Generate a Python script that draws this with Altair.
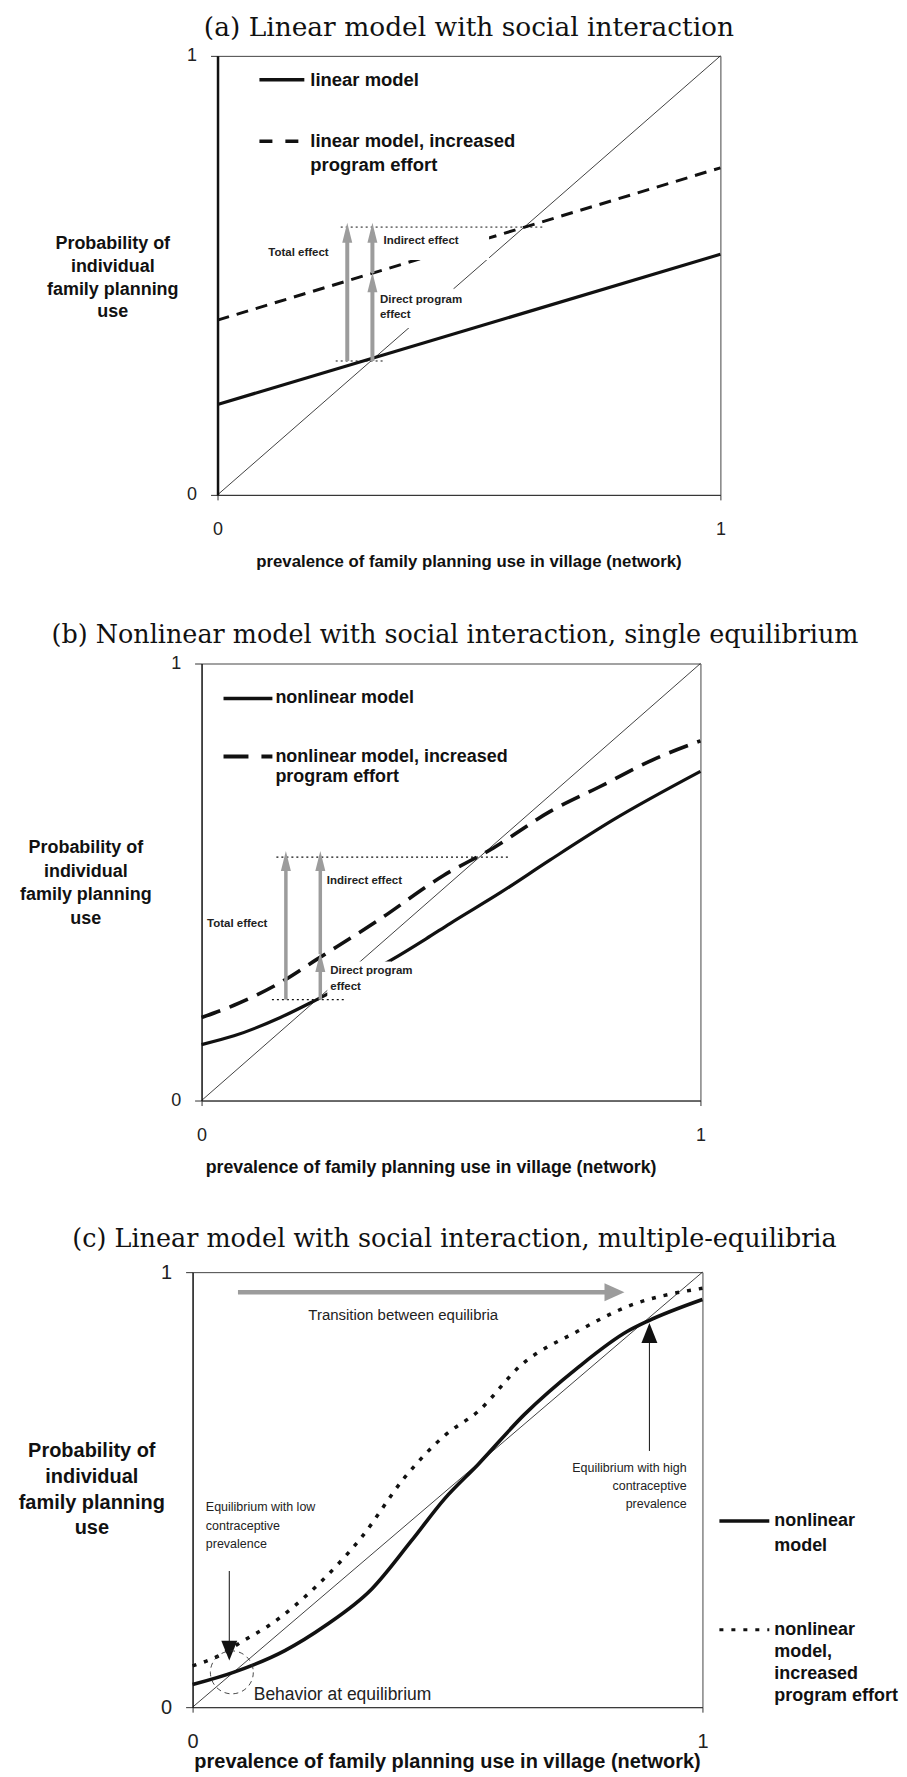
import altair as alt
import pandas as pd

SANS = "Liberation Sans"
SERIF = "DejaVu Serif"
INK = "#111111"
GREY = "#9c9c9c"

# ---------------- data: panel (a) ----------------
a_x = [0.0, 1.0]
a_linear = [0.206, 0.548]
a_increased = [0.398, 0.745]
diag_x = [0.0, 1.0]
diag_y = [0.0, 1.0]

a_arrow_x = [0.258, 0.308, 0.308]
a_arrow_from = [0.305, 0.305, 0.505]
a_arrow_tip = [0.620, 0.507, 0.620]
a_ref_y = [0.305, 0.610]
a_ref_from = [0.235, 0.245]
a_ref_to = [0.334, 0.647]
a_labels = ["Total effect", "Indirect effect", "Direct program", "effect"]
a_label_x = [0.101, 0.330, 0.323, 0.323]
a_label_y = [0.552, 0.578, 0.444, 0.409]
a_mask_x0 = [0.330, 0.322]
a_mask_x1 = [0.540, 0.470]
a_mask_y0 = [0.535, 0.380]
a_mask_y1 = [0.600, 0.470]

# ---------------- data: panel (b) ----------------
b_solid_x = [0.0, 0.065, 0.158, 0.231, 0.300, 0.378, 0.450, 0.498, 0.598, 0.698, 0.825, 1.0]
b_solid_y = [0.128, 0.148, 0.190, 0.231, 0.272, 0.320, 0.370, 0.405, 0.475, 0.550, 0.642, 0.753]
b_dash_x = [0.0, 0.065, 0.158, 0.231, 0.351, 0.485, 0.585, 0.698, 0.798, 0.911, 1.0]
b_dash_y = [0.190, 0.218, 0.270, 0.323, 0.410, 0.515, 0.578, 0.661, 0.718, 0.783, 0.823]

b_arrow_x = [0.169, 0.238, 0.238]
b_arrow_from = [0.231, 0.231, 0.335]
b_arrow_tip = [0.571, 0.340, 0.571]
b_ref_y = [0.231, 0.557]
b_ref_from = [0.141, 0.150]
b_ref_to = [0.285, 0.616]
b_labels = ["Total effect", "Indirect effect", "Direct program", "effect"]
b_label_x = [0.011, 0.251, 0.258, 0.258]
b_label_y = [0.403, 0.502, 0.297, 0.259]
b_mask_x0 = [0.252]
b_mask_x1 = [0.380]
b_mask_y0 = [0.236]
b_mask_y1 = [0.318]

# ---------------- data: panel (c) ----------------
c_solid_x = [0.0, 0.080, 0.181, 0.260, 0.351, 0.429, 0.495, 0.560, 0.651, 0.755, 0.853, 0.892, 1.0]
c_solid_y = [0.052, 0.080, 0.130, 0.187, 0.271, 0.382, 0.480, 0.558, 0.673, 0.780, 0.864, 0.887, 0.937]
c_dot_x = [0.0, 0.051, 0.100, 0.149, 0.247, 0.331, 0.416, 0.495, 0.560, 0.645, 0.755, 0.853, 1.0]
c_dot_y = [0.095, 0.118, 0.153, 0.187, 0.283, 0.390, 0.528, 0.625, 0.680, 0.787, 0.864, 0.921, 0.963]

c_trans_x = [0.089, 0.847]
c_trans_y = 0.954
c_eq_arrow_x = [0.896, 0.072]
c_eq_arrow_from = [0.589, 0.313]
c_eq_arrow_tip = [0.883, 0.107]
c_circle = (0.077, 0.080)
c_hi_labels = ["Equilibrium with high", "contraceptive", "prevalence"]
c_hi_y = [0.550, 0.508, 0.468]
c_hi_x = 0.969
c_lo_labels = ["Equilibrium with low", "contraceptive", "prevalence"]
c_lo_y = [0.459, 0.417, 0.375]
c_lo_x = 0.026

X_TITLE = "prevalence of family planning use in village (network)"
Y_TITLE = ["Probability of", "individual", "family planning", "use"]

UP = "M0,0L-0.5,2L0.5,2Z"
UP_WIDE = "M0,0L-0.8,2L0.8,2Z"
DOWN_WIDE = "M0,0L-0.8,-2L0.8,-2Z"
RIGHT = "M0,0L-2,-0.9L-2,0.9Z"

PIN = 183  # common left extent of every panel (pixels left of the plot area)


def one():
    return alt.Chart(pd.DataFrame({"k": [0]}))


def ptext(x, y, s, size, weight="normal", align="left", font=SANS, color=INK):
    return one().mark_text(text=s, align=align, baseline="middle", fontSize=size,
                           fontWeight=weight, font=font, color=color).encode(
        x=alt.value(x), y=alt.value(y))


def prule(x, x2, y, y2, **style):
    enc = dict(x=alt.value(x), y=alt.value(y))
    if x2 is not None:
        enc["x2"] = alt.value(x2)
    if y2 is not None:
        enc["y2"] = alt.value(y2)
    return one().mark_rule(**style).encode(**enc)


def spacer(w):
    return one().mark_point(opacity=0, size=0).encode(
        x=alt.value(w / 2), y=alt.value(2)).properties(
        width=w, height=4, view=alt.ViewBackground(strokeOpacity=0))


def make_enc(ydomw, lab_size, xpad):
    sc = alt.Scale(domain=[0, 1], nice=False, zero=False)
    xaxis = alt.Axis(values=[0, 1], format="d", title=None, grid=False,
                     domainColor="#333", domainWidth=1, tickColor="#333", tickSize=5,
                     labelFont=SANS, labelFontSize=lab_size, labelColor="#222",
                     labelPadding=xpad, labelBaseline="middle", labelFlush=False)
    yaxis = alt.Axis(values=[0, 1], format="d", title=None, grid=False,
                     domainColor="#111", domainWidth=ydomw, tickColor="#333", tickSize=7,
                     labelFont=SANS, labelFontSize=lab_size, labelColor="#222",
                     labelPadding=14, labelBaseline="middle", labelFlush=False)

    def X(f):
        return alt.X(f, type="quantitative", scale=sc, axis=xaxis)

    def Y(f):
        return alt.Y(f, type="quantitative", scale=sc, axis=yaxis)
    return X, Y


def line_layer(xs, ys, X, Y, **style):
    df = pd.DataFrame({"x": xs, "y": ys})
    return alt.Chart(df).mark_line(**style).encode(X("x"), Y("y"))


def text_layer(xs, ys, labels, X, Y, size, weight="normal", align="left", color="#222"):
    df = pd.DataFrame({"x": xs, "y": ys, "t": labels})
    return alt.Chart(df).mark_text(align=align, baseline="middle", fontSize=size,
                                   fontWeight=weight, font=SANS, color=color).encode(
        X("x"), Y("y"), text="t:N")


def vrule_layer(xs, y0, y1, X, Y, **style):
    df = pd.DataFrame({"x": xs, "y0": y0, "y1": y1})
    return alt.Chart(df).mark_rule(**style).encode(X("x"), Y("y0"), y2="y1:Q")


def hrule_layer(ys, x0, x1, X, Y, **style):
    df = pd.DataFrame({"y": ys, "x0": x0, "x1": x1})
    return alt.Chart(df).mark_rule(**style).encode(X("x0"), alt.X2("x1:Q"), Y("y"))


def head_layer(xs, ys, X, Y, shape, color, size=400):
    df = pd.DataFrame({"x": xs, "y": ys})
    return alt.Chart(df).mark_point(shape=shape, filled=True, opacity=1, size=size,
                                    color=color, strokeWidth=0).encode(X("x"), Y("y"))


def mask_layer(x0, x1, y0, y1, X, Y):
    df = pd.DataFrame({"x0": x0, "x1": x1, "y0": y0, "y1": y1})
    return alt.Chart(df).mark_rect(color="white").encode(
        X("x0"), alt.X2("x1:Q"), Y("y0"), alt.Y2("y1:Q"))


def ytitle(xc, ys, size):
    return [ptext(xc, y, s, size, weight="bold", align="center") for s, y in zip(Y_TITLE, ys)]


# ---------------- panel (a) ----------------
WA, HA = 504, 440
X, Y = make_enc(2.5, 18, 30)
shaft_a = [t - 0.022 for t in a_arrow_tip]
layers_a = [
    prule(-PIN, None, -45, HA + 117, color="white", strokeWidth=1),
    line_layer(diag_x, diag_y, X, Y, color=INK, strokeWidth=0.8),
    line_layer(a_x, a_linear, X, Y, color=INK, strokeWidth=3.2),
    line_layer(a_x, a_increased, X, Y, color=INK, strokeWidth=3, strokeDash=[12, 8]),
    hrule_layer(a_ref_y, a_ref_from, a_ref_to, X, Y, color=INK, strokeWidth=1, strokeDash=[2, 3]),
    mask_layer(a_mask_x0, a_mask_x1, a_mask_y0, a_mask_y1, X, Y),
    vrule_layer(a_arrow_x, a_arrow_from, shaft_a, X, Y, color=GREY, strokeWidth=4),
    head_layer(a_arrow_x, a_arrow_tip, X, Y, UP, GREY),
    text_layer(a_label_x, a_label_y, a_labels, X, Y, 11.5, weight="bold"),
    prule(42, 87, 24, None, color=INK, strokeWidth=3.5),
    ptext(93, 24, "linear model", 18.5, weight="bold"),
    prule(42, 87, 85.5, None, color=INK, strokeWidth=3.5, strokeDash=[13, 13]),
    ptext(93, 85.5, "linear model, increased", 18.5, weight="bold"),
    ptext(93, 109, "program effort", 18.5, weight="bold"),
    ptext(WA / 2, -27.5, "(a) Linear model with social interaction", 26.5, font=SERIF, align="center"),
    ptext(WA / 2, HA + 67, X_TITLE, 16.8, weight="bold", align="center"),
] + ytitle(-105, [188.8, 211.5, 234.2, 256.9], 18)
panel_a = alt.layer(*layers_a).properties(width=WA, height=HA)

# ---------------- panel (b) ----------------
WB, HB = 500, 438
X, Y = make_enc(1.2, 18, 30)
shaft_b = [t - 0.022 for t in b_arrow_tip]
layers_b = [
    prule(-PIN, None, -50, HB + 118, color="white", strokeWidth=1),
    line_layer(diag_x, diag_y, X, Y, color=INK, strokeWidth=0.8),
    line_layer(b_solid_x, b_solid_y, X, Y, color=INK, strokeWidth=3.2, interpolate="monotone"),
    line_layer(b_dash_x, b_dash_y, X, Y, color=INK, strokeWidth=3.6, strokeDash=[20, 10],
               interpolate="monotone"),
    hrule_layer(b_ref_y, b_ref_from, b_ref_to, X, Y, color=INK, strokeWidth=1.2, strokeDash=[2, 3]),
    mask_layer(b_mask_x0, b_mask_x1, b_mask_y0, b_mask_y1, X, Y),
    vrule_layer(b_arrow_x, b_arrow_from, shaft_b, X, Y, color=GREY, strokeWidth=3.5),
    head_layer(b_arrow_x, b_arrow_tip, X, Y, UP, GREY),
    text_layer(b_label_x, b_label_y, b_labels, X, Y, 11.5, weight="bold"),
    prule(22, 71, 35, None, color=INK, strokeWidth=3.5),
    ptext(74, 35, "nonlinear model", 18, weight="bold"),
    prule(22, 71, 93.3, None, color=INK, strokeWidth=4, strokeDash=[25, 13]),
    ptext(74, 93.3, "nonlinear model, increased", 18, weight="bold"),
    ptext(74, 113.3, "program effort", 18, weight="bold"),
    ptext(WB / 2 + 4, -29, "(b) Nonlinear model with social interaction, single equilibrium", 25.5,
          font=SERIF, align="center"),
    ptext(WB / 2 - 20, HB + 68, X_TITLE, 17.8, weight="bold", align="center"),
] + ytitle(-116, [185, 209, 232, 256], 18)
panel_b = alt.layer(*layers_b).properties(width=WB, height=HB)

# ---------------- panel (c) ----------------
WC, HC = 511, 436
X, Y = make_enc(1.2, 20, 29)
layers_c = [
    prule(-PIN, None, -52, HC + 65, color="white", strokeWidth=1),
    line_layer(diag_x, diag_y, X, Y, color=INK, strokeWidth=0.8),
    line_layer(c_solid_x, c_solid_y, X, Y, color=INK, strokeWidth=3.6, interpolate="monotone"),
    line_layer(c_dot_x, c_dot_y, X, Y, color=INK, strokeWidth=3.5, strokeDash=[4, 8],
               interpolate="monotone"),
    hrule_layer([c_trans_y], [c_trans_x[0]], [c_trans_x[1] - 0.03], X, Y, color=GREY, strokeWidth=4.5),
    head_layer([c_trans_x[1]], [c_trans_y], X, Y, RIGHT, GREY),
    vrule_layer(c_eq_arrow_x, c_eq_arrow_from,
                [c_eq_arrow_tip[0] - 0.03, c_eq_arrow_tip[1] + 0.03], X, Y, color=INK, strokeWidth=1),
    head_layer([c_eq_arrow_x[0]], [c_eq_arrow_tip[0]], X, Y, UP_WIDE, INK),
    head_layer([c_eq_arrow_x[1]], [c_eq_arrow_tip[1]], X, Y, DOWN_WIDE, INK),
    alt.Chart(pd.DataFrame({"x": [c_circle[0]], "y": [c_circle[1]]})).mark_point(
        shape="circle", size=1850, filled=False, opacity=1, color="#333",
        strokeWidth=0.9, strokeDash=[5, 4]).encode(X("x"), Y("y")),
    text_layer([0.227], [0.902], ["Transition between equilibria"], X, Y, 15),
    text_layer([c_hi_x] * 3, c_hi_y, c_hi_labels, X, Y, 12.5, align="right"),
    text_layer([c_lo_x] * 3, c_lo_y, c_lo_labels, X, Y, 12.5),
    text_layer([0.12], [0.027], ["Behavior at equilibrium"], X, Y, 17.5),
    prule(528, 578, 249.5, None, color=INK, strokeWidth=3.5),
    ptext(583, 249.5, "nonlinear", 18, weight="bold"),
    ptext(583, 274.4, "model", 18, weight="bold"),
    prule(528, 578, 358.4, None, color=INK, strokeWidth=3, strokeDash=[4, 8]),
    ptext(583, 358.4, "nonlinear", 18, weight="bold"),
    ptext(583, 381, "model,", 18, weight="bold"),
    ptext(583, 402.7, "increased", 18, weight="bold"),
    ptext(583, 425.3, "program effort", 18, weight="bold"),
    ptext(WC / 2 + 7, -33, "(c) Linear model with social interaction, multiple-equilibria", 25.5,
          font=SERIF, align="center"),
    ptext(WC / 2, HC + 55, X_TITLE, 20, weight="bold", align="center"),
] + ytitle(-101, [179.2, 205.3, 231.4, 256.3], 20)
panel_c = alt.layer(*layers_c).properties(width=WC, height=HC)

# plot-area left edges at 217, 201 and 192 px: spacer + PIN + page margin
row_a = alt.hconcat(spacer(217 - 8 - PIN), panel_a, spacing=0)
row_b = alt.hconcat(spacer(201 - 8 - PIN), panel_b, spacing=0)
row_c = alt.hconcat(spacer(192 - 8 - PIN), panel_c, spacing=0)

chart = alt.vconcat(row_a, row_b, row_c, spacing=0).properties(
    padding={"left": 0, "top": 0, "right": 0, "bottom": 0}
).configure_view(stroke="#444", strokeWidth=1)

chart.save("out.html", embed_options={"renderer": "svg", "actions": False})
